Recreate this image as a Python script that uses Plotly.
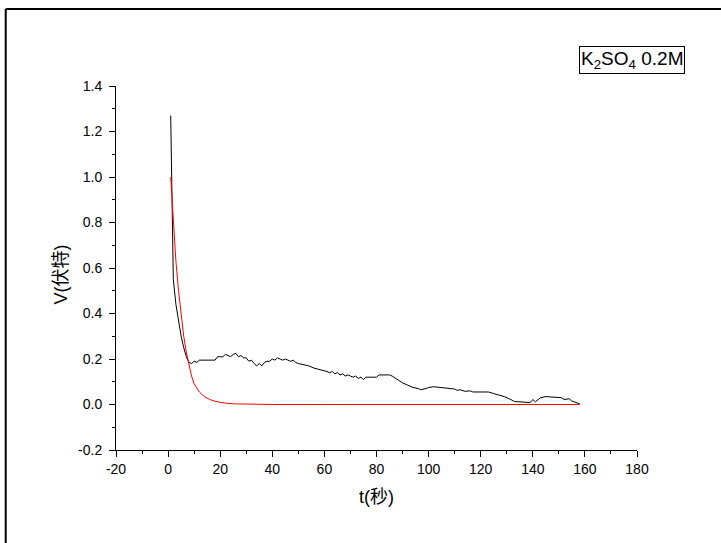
import plotly.graph_objects as go

# Measured voltage decay (black)
t_meas = [1, 1.5, 2, 3, 4, 5, 6, 7, 8, 9, 10, 11, 12, 14, 16, 18, 19, 21, 22, 23, 24,
          25, 26, 27, 28, 29, 30, 31, 32, 33, 34, 35, 36, 37, 38, 39, 40, 41, 42, 43,
          44, 45, 46, 47, 48, 49, 50, 52, 54, 56, 58, 60, 61, 62, 63, 64, 65, 66, 67,
          68, 69, 70, 71, 72, 73, 74, 75, 76, 78, 80, 81, 83, 85, 86, 88, 90, 92, 94,
          96, 97, 99, 100, 102, 104, 106, 108, 110, 111, 112, 114, 116, 117, 119, 121,
          123, 125, 127, 129, 131, 133, 135, 137, 139, 140, 141, 143, 145, 147, 149,
          151, 152, 154, 155, 156, 158]
v_meas = [1.27, 0.80, 0.55, 0.44, 0.36, 0.30, 0.25, 0.21, 0.185, 0.18, 0.19, 0.185,
          0.195, 0.195, 0.195, 0.195, 0.21, 0.21, 0.22, 0.215, 0.21, 0.22, 0.225, 0.21,
          0.215, 0.205, 0.205, 0.19, 0.195, 0.18, 0.17, 0.18, 0.17, 0.185, 0.19, 0.19,
          0.20, 0.195, 0.205, 0.20, 0.195, 0.20, 0.195, 0.19, 0.195, 0.185, 0.18, 0.175,
          0.17, 0.16, 0.155, 0.15, 0.145, 0.14, 0.145, 0.135, 0.14, 0.13, 0.135, 0.125,
          0.13, 0.125, 0.12, 0.125, 0.115, 0.12, 0.11, 0.12, 0.12, 0.12, 0.13, 0.13,
          0.13, 0.125, 0.11, 0.095, 0.085, 0.075, 0.07, 0.065, 0.07, 0.075, 0.078,
          0.075, 0.072, 0.07, 0.068, 0.062, 0.065, 0.058, 0.06, 0.055, 0.055, 0.052,
          0.055, 0.048, 0.042, 0.035, 0.025, 0.013, 0.012, 0.01, 0.008, 0.022, 0.012,
          0.03, 0.035, 0.033, 0.032, 0.03, 0.022, 0.025, 0.015, 0.012, 0.003]

# Fitted decay curve (red)
t_fit = [1, 2, 3, 4, 5, 6, 7, 8, 9, 10, 12, 14, 16, 18, 20, 22, 25, 30, 35, 40, 60,
         80, 100, 120, 140, 158]
v_fit = [1.0, 0.80, 0.63, 0.50, 0.39, 0.30, 0.23, 0.17, 0.125, 0.09, 0.055, 0.034,
         0.022, 0.014, 0.009, 0.006, 0.003, 0.001, 0.0004, 0.0, 0.0, 0.0, 0.0, 0.0,
         0.0, 0.0]

x_ticks = [-20, 0, 20, 40, 60, 80, 100, 120, 140, 160, 180]
y_ticks = [-0.2, 0.0, 0.2, 0.4, 0.6, 0.8, 1.0, 1.2, 1.4]

FONT = "Liberation Sans, Arial, Noto Sans CJK SC, sans-serif"

fig = go.Figure()
fig.add_trace(go.Scatter(x=t_meas, y=v_meas, mode="lines",
                         line=dict(color="black", width=1), showlegend=False))
fig.add_trace(go.Scatter(x=t_fit, y=v_fit, mode="lines",
                         line=dict(color="#ff0000", width=1), showlegend=False))

axis_common = dict(showline=True, linecolor="black", linewidth=1, ticks="outside",
                   ticklen=6, tickcolor="black", tickwidth=1, showgrid=False,
                   zeroline=False, tickfont=dict(family=FONT, size=14, color="black"))

fig.update_xaxes(range=[-20, 180], tickvals=x_ticks,
                 ticktext=[str(v) for v in x_ticks],
                 minor=dict(dtick=10, tick0=0, ticks="outside", ticklen=3,
                            tickcolor="black"),
                 **axis_common)
fig.update_yaxes(range=[-0.2, 1.4], tickvals=y_ticks,
                 ticktext=[f"{v:.1f}" for v in y_ticks],
                 ticklabelstandoff=4,
                 minor=dict(dtick=0.1, tick0=0, ticks="outside", ticklen=3,
                            tickcolor="black"),
                 **axis_common)

fig.update_layout(
    width=721, height=543,
    margin=dict(l=115.5, r=83.5, t=86, b=93, pad=0),
    plot_bgcolor="white", paper_bgcolor="white",
    font=dict(family=FONT, color="black"),
    shapes=[
        # outer frame: top and left edges
        dict(type="line", xref="paper", yref="paper",
             x0=(5 - 115.5) / 522, x1=(725 - 115.5) / 522,
             y0=(450 - 9) / 364, y1=(450 - 9) / 364,
             line=dict(color="black", width=2)),
        dict(type="line", xref="paper", yref="paper",
             x0=(5 - 115.5) / 522, x1=(5 - 115.5) / 522,
             y0=(450 - 9) / 364, y1=(450 - 550) / 364,
             line=dict(color="black", width=2)),
    ],
    annotations=[
        dict(text="K<sub>2</sub>SO<sub>4</sub> 0.2M", xref="paper", yref="paper",
             x=(632.5 - 115.5) / 522, y=(450 - 59.5) / 364,
             xanchor="center", yanchor="middle", showarrow=False,
             font=dict(family=FONT, size=19, color="black"),
             bordercolor="black", borderwidth=1, borderpad=1, bgcolor="white"),
        dict(text="t(秒)", xref="paper", yref="paper",
             x=(376 - 115.5) / 522, y=(450 - 497) / 364,
             xanchor="center", yanchor="middle", showarrow=False,
             font=dict(family=FONT, size=18, color="black")),
        dict(text="V(伏特)", xref="paper", yref="paper",
             x=(60 - 115.5) / 522, y=(450 - 275) / 364,
             xanchor="center", yanchor="middle", showarrow=False, textangle=-90,
             font=dict(family=FONT, size=18, color="black")),
    ],
)

fig.write_html("out.html")
